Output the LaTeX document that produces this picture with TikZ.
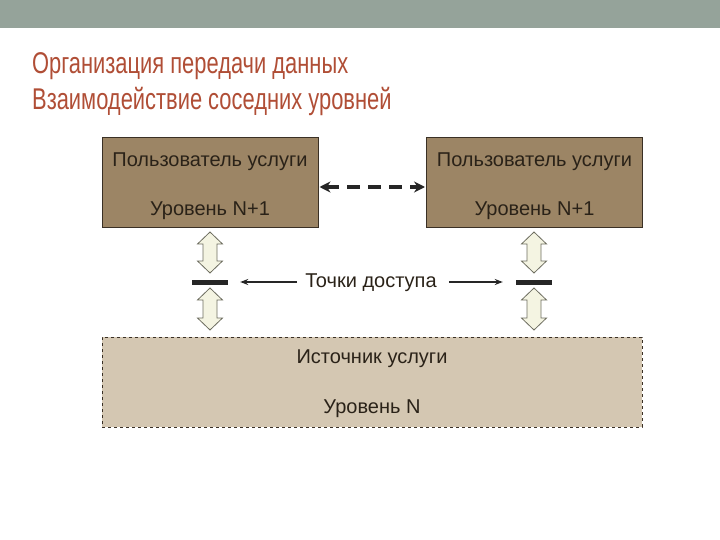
\documentclass[tikz,border=0pt]{standalone}
\usepackage{fontspec}
\setmainfont{Liberation Sans}
\usetikzlibrary{arrows.meta}
\definecolor{band}{HTML}{95A39A}
\definecolor{titlec}{HTML}{B04E36}
\definecolor{userfill}{HTML}{9C8565}
\definecolor{userdraw}{HTML}{3A3025}
\definecolor{srcfill}{HTML}{D4C7B2}
\definecolor{txt}{HTML}{2A2218}
\definecolor{dafill}{HTML}{F4F4E2}
\definecolor{dadraw}{HTML}{6E6E60}
\tikzset{
  userbox/.style={draw=userdraw, line width=1pt, fill=userfill, minimum width=216pt, minimum height=90pt, inner sep=0pt},
  srcbox/.style={draw=userdraw, dashed, line width=0.7pt, fill=srcfill, minimum width=540pt, minimum height=90pt, inner sep=0pt},
  boxtext/.style={font=\fontsize{20}{22}\selectfont, text=txt, inner sep=0pt, anchor=base},
  titletext/.style={font=\fontsize{30}{32}\selectfont, text=titlec, inner sep=0pt, anchor=base west, xscale=0.73},
  bar/.style={fill=black!85, minimum width=36pt, minimum height=5pt, inner sep=0pt},
  thinarrow/.style={-{Stealth[length=8pt,width=6pt]}, line width=1.3pt, black!85},
  dasharrow/.style={{Stealth[length=11pt,width=11pt]}-{Stealth[length=11pt,width=11pt]}, line width=4pt, black!85, dash pattern=on 13pt off 8pt},
  dblarrow/.style={draw=dadraw, fill=dafill, line width=0.8pt, line join=miter}
}
\begin{document}
\begin{tikzpicture}[x=1pt,y=-1pt]
\useasboundingbox (0,0) rectangle (720,540);
\fill[band] (0,0) rectangle (720,28);
\node[titletext] (t1) at (32,74) {Организация передачи данных};
\node[titletext] (t2) at (32,110) {Взаимодействие соседних уровней};

\node[userbox] (u1) at (210,183) {};
\node[userbox] (u2) at (534.5,183) {};
\node[boxtext] (u1a) at (210,167) {Пользователь услуги};
\node[boxtext] (u1b) at (210,215) {Уровень N+1};
\node[boxtext] (u2a) at (534.5,167) {Пользователь услуги};
\node[boxtext] (u2b) at (534.5,215) {Уровень N+1};

\node[srcbox] (src) at (372,382) {};
\node[boxtext] (sa) at (372,363) {Источник услуги};
\node[boxtext] (sb) at (372,413) {Уровень N};

\node[bar] (b1) at (210,282) {};
\node[bar] (b2) at (534,282) {};
\node[boxtext] (tp) at (371,287) {Точки доступа};

\draw[dasharrow] ([xshift=1pt,yshift=-4pt]u1.east) -- ([xshift=-1pt,yshift=-4pt]u2.west);
\draw[thinarrow] ([xshift=-8pt]tp.west |- b1.east) -- ([xshift=12pt]b1.east);
\draw[thinarrow] ([xshift=12pt]tp.east |- b2.west) -- ([xshift=-13pt]b2.west);

% hollow double arrows
\foreach \cx in {210,534}{
  \foreach \ya/\yb in {232/273, 288/330}{
    \draw[dblarrow] (\cx,\ya) -- (\cx+12.5,\ya+12) -- (\cx+7,\ya+12) -- (\cx+7,\yb-12) -- (\cx+12.5,\yb-12)
      -- (\cx,\yb) -- (\cx-12.5,\yb-12) -- (\cx-7,\yb-12) -- (\cx-7,\ya+12) -- (\cx-12.5,\ya+12) -- cycle;
  }
}
\end{tikzpicture}
\end{document}
